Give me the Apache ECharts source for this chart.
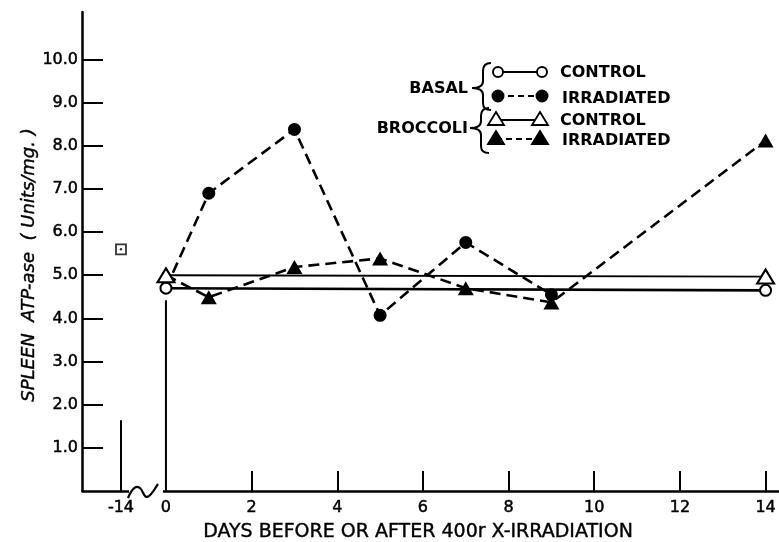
<!DOCTYPE html>
<html>
<head>
<meta charset="utf-8">
<script src="https://cdn.jsdelivr.net/npm/echarts@6/dist/echarts.min.js"></script>
<style>html,body{margin:0;padding:0;background:#fff}#c{width:779px;height:542px}</style>
</head>
<body>
<div id="c"></div>
<script>
// ---- data ----
var basalControlDays = [0, 14];
var basalControlVals = [4.7, 4.65];
var basalIrrDays = [0, 1, 3, 5, 7, 9];
var basalIrrVals = [4.7, 6.9, 8.38, 4.07, 5.76, 4.55];
var brocControlDays = [0, 14];
var brocControlVals = [5.0, 4.97];
var brocIrrDays = [0, 1, 3, 5, 7, 9, 14];
var brocIrrVals = [5.0, 4.49, 5.19, 5.39, 4.70, 4.37, 8.12];
var pretreatDays = [-14];
var pretreatVals = [5.6];
var guideDays = [-14, 0];
var guideTops = [1.64, 4.42];
var xLabelValues = [-14, 0, 2, 4, 6, 8, 10, 12, 14];
var xTickValues = [2, 4, 6, 8, 10, 12, 14];
var yTickValues = [1, 2, 3, 4, 5, 6, 7, 8, 9, 10];
var legendGroups = ['BASAL', 'BROCCOLI'];
var legendItems = ['CONTROL', 'IRRADIATED', 'CONTROL', 'IRRADIATED'];
var xTitle = 'DAYS BEFORE OR AFTER 400r X-IRRADIATION';
var yTitle = 'SPLEEN  ATP-ase  ( Units/mg. )';

function pairs(xs, ys) { return xs.map(function (x, i) { return [x, ys[i]]; }); }
function hideFirst(arr) {
  return arr.map(function (p, i) { return i === 0 ? { value: p, symbol: 'none' } : p; });
}

var FONT = 'DejaVu Sans';
var dash = [11, 6];

var series = [];
guideDays.forEach(function (d, i) {
  series.push({
    type: 'line', data: [[d, 0], [d, guideTops[i]]], symbol: 'none',
    lineStyle: { color: '#000', width: 2 }, silent: true, z: 1
  });
});
series.push({
  name: 'Basal irradiated', type: 'line', data: hideFirst(pairs(basalIrrDays, basalIrrVals)),
  symbol: 'circle', symbolSize: 13,
  lineStyle: { color: '#000', width: 2.6, type: dash },
  itemStyle: { color: '#000' }
});
series.push({
  name: 'Broccoli irradiated', type: 'line', data: hideFirst(pairs(brocIrrDays, brocIrrVals)),
  symbol: 'triangle', symbolSize: [16, 14],
  lineStyle: { color: '#000', width: 2.6, type: dash },
  itemStyle: { color: '#000' }
});
series.push({
  name: 'Basal control', type: 'line', data: pairs(basalControlDays, basalControlVals),
  symbol: 'circle', symbolSize: 11,
  lineStyle: { color: '#000', width: 2.6 },
  itemStyle: { color: '#fff', borderColor: '#000', borderWidth: 2 }
});
series.push({
  name: 'Broccoli control', type: 'line', data: pairs(brocControlDays, brocControlVals),
  symbol: 'triangle', symbolSize: [17, 14],
  lineStyle: { color: '#000', width: 1.8 },
  itemStyle: { color: '#fff', borderColor: '#000', borderWidth: 2 }
});
series.push({
  name: 'Pretreatment', type: 'scatter', data: pairs(pretreatDays, pretreatVals),
  symbol: 'rect', symbolSize: 10,
  itemStyle: { color: '#fff', borderColor: '#000', borderWidth: 1.8 }
});
series.push({
  type: 'scatter', data: pairs(pretreatDays, pretreatVals),
  symbol: 'circle', symbolSize: 2.5, itemStyle: { color: '#000' }, z: 3
});

var g = [];
var LS = { stroke: '#000', lineWidth: 2, fill: 'none' };
function txt(x, y, s, align) {
  return { type: 'text', x: x, y: y, style: { text: s, fill: '#000', font: 'bold 16px "' + FONT + '"', align: align || 'left', verticalAlign: 'middle' } };
}
function circ(cx, cy, r, filled) {
  return { type: 'circle', shape: { cx: cx, cy: cy, r: r }, style: { fill: filled ? '#000' : '#fff', stroke: '#000', lineWidth: 2 }, z: 101 };
}
function tri(cx, cy, filled) {
  return { type: 'polygon', shape: { points: [[cx - 8, cy + 6], [cx + 8, cy + 6], [cx, cy - 7]] }, style: { fill: filled ? '#000' : '#fff', stroke: '#000', lineWidth: 1.8 }, z: 101 };
}
function seg(x1, y1, x2, y2, dashed) {
  return { type: 'line', shape: { x1: x1, y1: y1, x2: x2, y2: y2 }, style: { stroke: '#000', lineWidth: 2, lineDash: dashed ? [6, 4] : null }, z: 100 };
}
function qb(x1, y1, cx, cy, x2, y2) {
  return { type: 'bezierCurve', shape: { x1: x1, y1: y1, cpx1: cx, cpy1: cy, x2: x2, y2: y2 }, style: LS, z: 100 };
}
function cb(x1, y1, c1x, c1y, c2x, c2y, x2, y2, w) {
  return { type: 'bezierCurve', shape: { x1: x1, y1: y1, cpx1: c1x, cpy1: c1y, cpx2: c2x, cpy2: c2y, x2: x2, y2: y2 }, style: { stroke: '#000', lineWidth: w || 2, fill: 'none' }, z: 101 };
}
function brace(xEnd, xSp, xTip, yTop, yTip, yBot) {
  g.push(qb(xEnd, yTop, xSp, yTop, xSp, yTop + 8));
  g.push(seg(xSp, yTop + 8, xSp, yTip - 7, false));
  g.push(qb(xSp, yTip - 7, xSp, yTip, xTip, yTip));
  g.push(qb(xTip, yTip, xSp, yTip, xSp, yTip + 7));
  g.push(seg(xSp, yTip + 7, xSp, yBot - 7, false));
  g.push(qb(xSp, yBot - 7, xSp, yBot, xEnd, yBot));
}
g.push(txt(468, 89, legendGroups[0], 'right'));
g.push(txt(468, 129, legendGroups[1], 'right'));
brace(491, 483, 472, 63, 88, 110);
brace(489, 481, 470, 108, 128, 153);
g.push(seg(498, 72, 542, 72, false)); g.push(circ(498, 72, 5, false)); g.push(circ(542, 72, 5, false));
g.push(txt(560, 73, legendItems[0]));
g.push(seg(498, 96, 542, 96, true)); g.push(circ(498, 96, 5.5, true)); g.push(circ(542, 96, 5.5, true));
g.push(txt(562, 99, legendItems[1]));
g.push(seg(496, 120, 540, 120, false)); g.push(tri(496, 119, false)); g.push(tri(540, 119, false));
g.push(txt(560, 121, legendItems[2]));
g.push(seg(496, 139, 540, 139, true)); g.push(tri(496, 138, true)); g.push(tri(540, 138, true));
g.push(txt(562, 141, legendItems[3]));
// axis break squiggle
g.push({ type: 'rect', shape: { x: 129, y: 486, width: 34, height: 9 }, style: { fill: '#fff' }, z: 100 });
g.push(cb(128, 498, 132, 488, 137, 484, 141, 489, 2.2));
g.push(cb(141, 489, 144, 494, 145, 499, 149, 496, 2.2));
g.push(cb(149, 496, 153, 493, 155, 488, 158, 484, 2.2));
g.push({ type: 'text', x: 418, y: 532, style: { text: xTitle, fill: '#000', stroke: '#000', lineWidth: 0.4, font: '19px "' + FONT + '"', align: 'center', verticalAlign: 'middle' } });
g.push({ type: 'text', x: 29, y: 265, rotation: Math.PI / 2, style: { text: yTitle, fill: '#000', stroke: '#000', lineWidth: 0.4, font: 'italic 18px "' + FONT + '"', align: 'center', verticalAlign: 'middle' } });

var labelStyle = { color: '#000', fontSize: 16, fontFamily: FONT, textBorderColor: '#000', textBorderWidth: 0.5 };

var chart = echarts.init(document.getElementById('c'), null, { renderer: 'canvas' });
chart.setOption({
  animation: false,
  backgroundColor: '#fff',
  grid: { left: 82, right: 0, top: 12, bottom: 51 },
  xAxis: {
    type: 'value', min: -14.91, max: 14.3,
    breaks: [{ start: -13.5, end: -0.55, gap: 0 }],
    breakArea: { show: false },
    axisLine: { show: true, onZero: false, lineStyle: { color: '#000', width: 2.5 } },
    axisTick: { show: true, inside: true, length: 20, lineStyle: { color: '#000', width: 2 }, customValues: xTickValues },
    axisLabel: Object.assign({ show: true, margin: 9, customValues: xLabelValues, formatter: function (v) { return String(v); } }, labelStyle),
    splitLine: { show: false }
  },
  yAxis: {
    type: 'value', min: 0, max: 11.1,
    axisLine: { show: true, onZero: false, lineStyle: { color: '#000', width: 2.5 } },
    axisTick: { show: true, inside: true, length: 21, lineStyle: { color: '#000', width: 2 }, customValues: yTickValues },
    axisLabel: Object.assign({ show: true, margin: 4, customValues: yTickValues, formatter: function (v) { return v.toFixed(1); } }, labelStyle),
    splitLine: { show: false }
  },
  graphic: g,
  series: series
});
</script>
</body>
</html>
